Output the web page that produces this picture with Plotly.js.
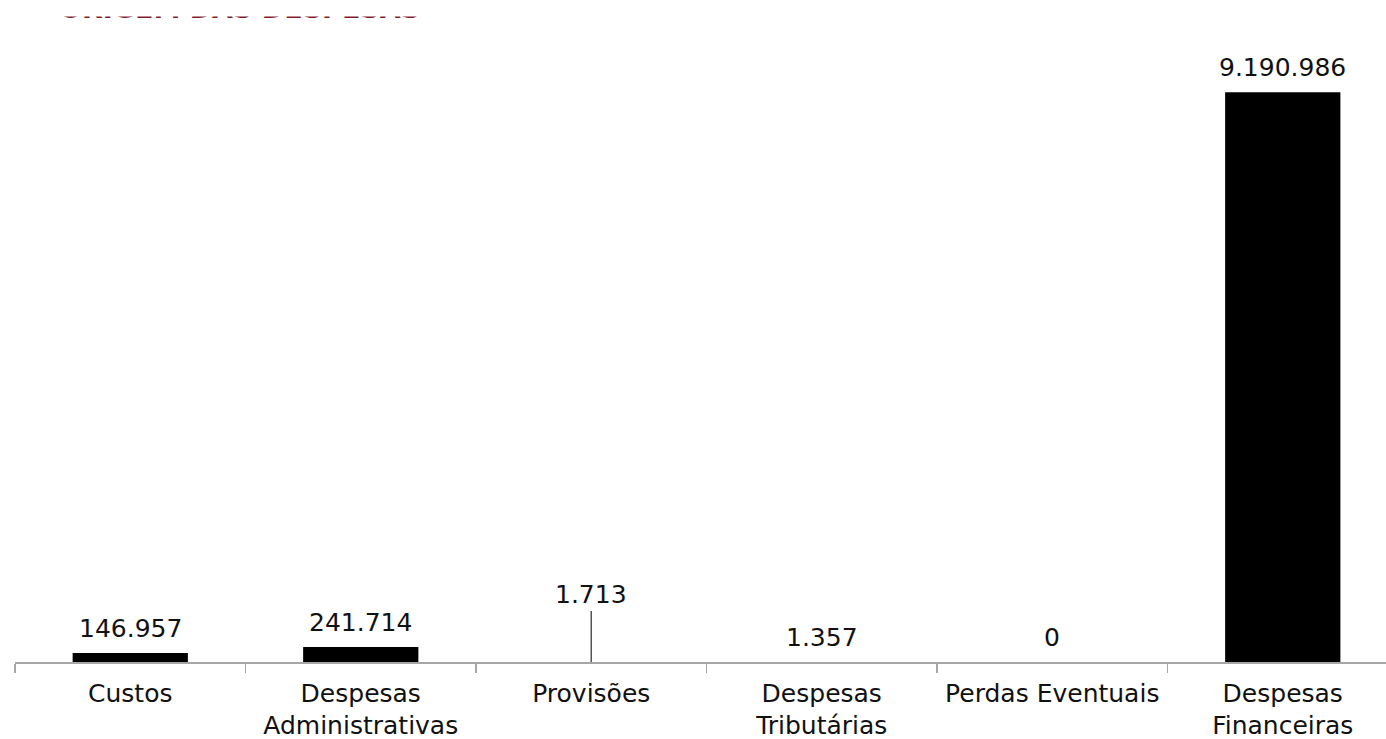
<!DOCTYPE html>
<html>
<head>
<meta charset="utf-8">
<script src="https://cdn.plot.ly/plotly-3.0.1.min.js"></script>
<style>
html,body{margin:0;padding:0;overflow:hidden;background:#fff;}
#chart{width:1400px;height:739px;}
</style>
</head>
<body>
<div id="chart"></div>
<script>
const categories = ['Custos', 'Despesas<br>Administrativas', 'Provisões', 'Despesas<br>Tributárias', 'Perdas Eventuais', 'Despesas<br>Financeiras'];
const values = [146957, 241714, 1713, 1357, 0, 9190986];
const chartTitle = 'ORIGEM DAS DESPESAS';
const leaderCategory = 'Provisões';

function fmt(v){
  return String(Math.round(v)).replace(/\B(?=(\d{3})+(?!\d))/g, '.');
}

const FONT = 'DejaVu Sans';
const PLOT_TOP = 42, PLOT_BOTTOM = 662, PLOT_H = PLOT_BOTTOM - PLOT_TOP;
function py(p){ return (PLOT_BOTTOM - p) / PLOT_H; }

const annotations = categories.map((c, i) => {
  const lead = c === leaderCategory;
  return {
    x: c, y: values[i], xref: 'x', yref: 'y',
    text: fmt(values[i]),
    showarrow: lead,
    arrowhead: 0, arrowwidth: 1.5, arrowcolor: '#555555',
    ax: 0, ay: -67, standoff: 0,
    yanchor: lead ? 'auto' : 'bottom',
    yshift: lead ? 0 : 8,
    font: {family: FONT, size: 25, color: '#111111'}
  };
});

// title (its top is hidden in the reference, only the lower edge of the letters shows)
annotations.push({
  xref: 'paper', yref: 'paper', x: 0.0304, y: py(26),
  xanchor: 'left', yanchor: 'bottom', showarrow: false,
  text: '<b>' + chartTitle + '</b>',
  font: {family: FONT, size: 27, color: '#7b1a2a'}
});
annotations.push({
  xref: 'paper', yref: 'paper', x: 0, y: py(-2),
  xanchor: 'left', yanchor: 'top', showarrow: false,
  text: ' ', width: 480, height: 17, bgcolor: '#ffffff', borderpad: 0
});

const trace = {
  type: 'bar',
  x: categories,
  y: values,
  width: 0.5,
  marker: {color: '#000000', line: {width: 0}},
  hoverinfo: 'x+y'
};

const layout = {
  width: 1400, height: 739,
  margin: {l: 15, r: 2, t: PLOT_TOP, b: 739 - PLOT_BOTTOM, pad: 0},
  paper_bgcolor: '#ffffff', plot_bgcolor: '#ffffff',
  showlegend: false,
  xaxis: {
    type: 'category',
    showline: true, linecolor: '#a6a6a6', linewidth: 1.5,
    ticks: 'outside', tickson: 'boundaries', ticklen: 9, tickcolor: '#a6a6a6', tickwidth: 1.5,
    ticklabelstandoff: 8, tickangle: 0,
    tickfont: {family: FONT, size: 25, color: '#111111'},
    showgrid: false, zeroline: false, fixedrange: true
  },
  yaxis: {
    visible: false, range: [0, 10000000], fixedrange: true
  },
  annotations: annotations
};

Plotly.newPlot('chart', [trace], layout, {displayModeBar: false, staticPlot: true});
</script>
</body>
</html>
